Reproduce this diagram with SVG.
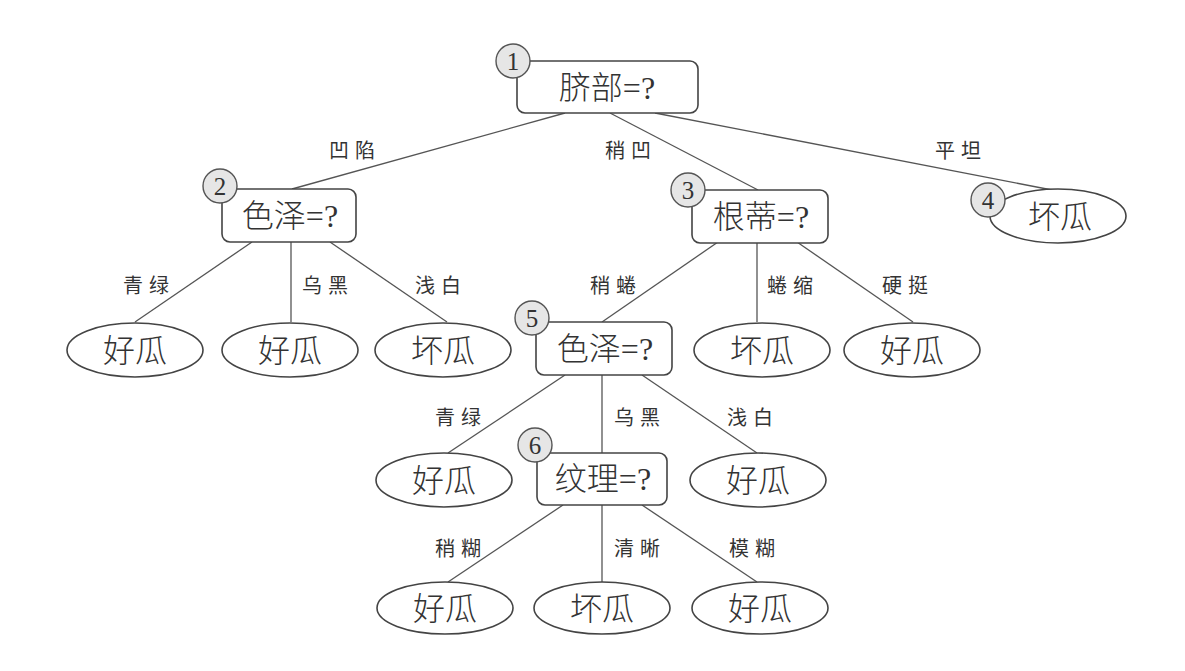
<svg xmlns="http://www.w3.org/2000/svg" width="1185" height="671" viewBox="0 0 1185 671">
<style>
.edge{stroke:#555;stroke-width:1.3;fill:none}
.box{fill:#fff;stroke:#444;stroke-width:1.6}
.leaf{fill:#fff;stroke:#444;stroke-width:1.6}
.num{fill:#e6e6e6;stroke:#555;stroke-width:1.4}
.numt{font-family:"Liberation Serif",serif;font-size:25px;fill:#333;text-anchor:middle}
.nt{font-family:"Liberation Serif","Noto Sans CJK SC",serif;font-size:32px;fill:#333;text-anchor:middle;font-weight:300}
.lt{font-family:"Noto Sans CJK SC",sans-serif;font-size:20px;fill:#333;text-anchor:middle;letter-spacing:6px}
</style>
<rect width="1185" height="671" fill="#fff"/>
<g id="connectors">
<line class="edge" x1="565" y1="113" x2="292" y2="189"/>
<line class="edge" x1="610" y1="113" x2="758" y2="190"/>
<line class="edge" x1="655" y1="113" x2="1052" y2="190"/>
<line class="edge" x1="252" y1="242" x2="135" y2="322"/>
<line class="edge" x1="291" y1="242" x2="291" y2="322"/>
<line class="edge" x1="330" y1="242" x2="447" y2="322"/>
<line class="edge" x1="718" y1="242" x2="602" y2="322"/>
<line class="edge" x1="757" y1="242" x2="757" y2="322"/>
<line class="edge" x1="797" y1="242" x2="913" y2="322"/>
<line class="edge" x1="565" y1="375" x2="448" y2="453"/>
<line class="edge" x1="602" y1="375" x2="602" y2="453"/>
<line class="edge" x1="642" y1="375" x2="757" y2="453"/>
<line class="edge" x1="563" y1="505" x2="448" y2="582"/>
<line class="edge" x1="602" y1="505" x2="602" y2="582"/>
<line class="edge" x1="642" y1="505" x2="757" y2="582"/>
<text class="lt" x="355" y="158">凹陷</text>
<text class="lt" x="631" y="158">稍凹</text>
<text class="lt" x="961" y="158">平坦</text>
<text class="lt" x="149" y="293">青绿</text>
<text class="lt" x="328" y="293">乌黑</text>
<text class="lt" x="441" y="293">浅白</text>
<text class="lt" x="616" y="293">稍蜷</text>
<text class="lt" x="793" y="293">蜷缩</text>
<text class="lt" x="908" y="293">硬挺</text>
<text class="lt" x="461" y="425">青绿</text>
<text class="lt" x="640" y="425">乌黑</text>
<text class="lt" x="753" y="425">浅白</text>
<text class="lt" x="461" y="556">稍糊</text>
<text class="lt" x="640" y="556">清晰</text>
<text class="lt" x="755" y="556">模糊</text>
</g>
<g id="node1">
<rect class="box" x="517" y="61" width="181" height="52" rx="8"/>
<circle class="num" cx="513" cy="61" r="17"/>
<text class="numt" x="513" y="70">1</text>
<text class="nt" x="607" y="99">脐部=?</text>
</g>
<g id="node2">
<rect class="box" x="222" y="189" width="134" height="53" rx="8"/>
<circle class="num" cx="220" cy="186" r="17"/>
<text class="numt" x="220" y="195">2</text>
<text class="nt" x="290" y="227">色泽=?</text>
</g>
<g id="node3">
<rect class="box" x="692" y="190" width="136" height="53" rx="8"/>
<circle class="num" cx="688" cy="190" r="17"/>
<text class="numt" x="688" y="199">3</text>
<text class="nt" x="761" y="228">根蒂=?</text>
</g>
<g id="node4">
<ellipse class="leaf" cx="1058" cy="216" rx="68" ry="27"/>
<circle class="num" cx="988" cy="200" r="17"/>
<text class="numt" x="988" y="209">4</text>
<text class="nt" x="1060" y="228">坏瓜</text>
</g>
<g id="leaf2a">
<ellipse class="leaf" cx="135" cy="350" rx="68" ry="27"/>
<text class="nt" x="135" y="362">好瓜</text>
</g>
<g id="leaf2b">
<ellipse class="leaf" cx="290" cy="350" rx="68" ry="27"/>
<text class="nt" x="290" y="362">好瓜</text>
</g>
<g id="leaf2c">
<ellipse class="leaf" cx="443" cy="350" rx="68" ry="27"/>
<text class="nt" x="443" y="362">坏瓜</text>
</g>
<g id="node5">
<rect class="box" x="536" y="322" width="136" height="53" rx="8"/>
<circle class="num" cx="532" cy="318" r="17"/>
<text class="numt" x="532" y="327">5</text>
<text class="nt" x="605" y="360">色泽=?</text>
</g>
<g id="leaf3b">
<ellipse class="leaf" cx="762" cy="350" rx="68" ry="27"/>
<text class="nt" x="762" y="362">坏瓜</text>
</g>
<g id="leaf3c">
<ellipse class="leaf" cx="912" cy="350" rx="68" ry="27"/>
<text class="nt" x="912" y="362">好瓜</text>
</g>
<g id="leaf5a">
<ellipse class="leaf" cx="444" cy="480" rx="68" ry="27"/>
<text class="nt" x="444" y="492">好瓜</text>
</g>
<g id="node6">
<rect class="box" x="537" y="453" width="130" height="52" rx="8"/>
<circle class="num" cx="535" cy="445" r="17"/>
<text class="numt" x="535" y="454">6</text>
<text class="nt" x="603" y="490">纹理=?</text>
</g>
<g id="leaf5c">
<ellipse class="leaf" cx="758" cy="480" rx="68" ry="27"/>
<text class="nt" x="758" y="492">好瓜</text>
</g>
<g id="leaf6a">
<ellipse class="leaf" cx="445" cy="608" rx="68" ry="26"/>
<text class="nt" x="445" y="620">好瓜</text>
</g>
<g id="leaf6b">
<ellipse class="leaf" cx="602" cy="608" rx="68" ry="26"/>
<text class="nt" x="602" y="620">坏瓜</text>
</g>
<g id="leaf6c">
<ellipse class="leaf" cx="760" cy="608" rx="68" ry="26"/>
<text class="nt" x="760" y="620">好瓜</text>
</g>
</svg>
